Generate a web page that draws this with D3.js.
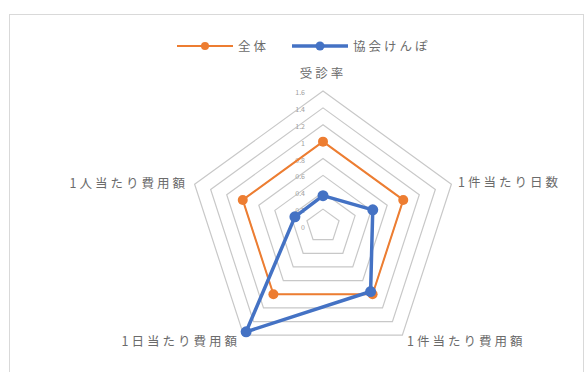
<!DOCTYPE html>
<html>
<head>
<meta charset="utf-8">
<script src="https://cdn.jsdelivr.net/npm/d3@7"></script>
<style>
  body { margin: 0; background: #fff; }
  .lbl { font-family: "Noto Sans CJK JP", sans-serif; fill: #6b6b6b; }
</style>
</head>
<body>
<div id="chart"></div>
<script>
// data
var axes = ['受診率', '1件当たり日数', '1件当たり費用額', '1日当たり費用額', '1人当たり費用額'];
var seriesNames = ['全体', '協会けんぽ'];
var zentai = [1.0, 1.0, 1.0, 1.0, 1.0];
var kyokai = [0.36, 0.62, 0.96, 1.55, 0.35];
var tickValues = [0, 0.2, 0.4, 0.6, 0.8, 1.0, 1.2, 1.4, 1.6];
var tickLabels = ['0', '0.2', '0.4', '0.6', '0.8', '1', '1.2', '1.4', '1.6'];
var colors = ['#ED7D31', '#4472C4'];

var W = 588, H = 372,
	cx = 323, cy = 226, R = 135;

var svg = d3.select('#chart').append('svg')
	.attr('width', W)
	.attr('height', H);

// outer frame
svg.append('rect')
	.attr('x', 9.5).attr('y', 14.5)
	.attr('width', 574).attr('height', 420)
	.attr('fill', 'none')
	.attr('stroke', '#d9d9d9');

var r = d3.scaleLinear().domain([0, 1.6]).range([0, R]);
var ang = function(i) { return i * 2 * Math.PI / axes.length; };
var pt = function(v, i) { return [cx + r(v) * Math.sin(ang(i)), cy - r(v) * Math.cos(ang(i))]; };

var line = d3.line().curve(d3.curveLinearClosed);

// rings
svg.selectAll('.ring')
	.data(tickValues.slice(1))
	.enter().append('path')
	.attr('class', 'ring')
	.attr('d', function(t) { return line(axes.map(function(a, i) { return pt(t, i); })); })
	.attr('fill', 'none')
	.attr('stroke', '#c8c8c8')
	.attr('stroke-width', 1.2);

// tick labels
svg.selectAll('.tick')
	.data(tickValues)
	.enter().append('text')
	.attr('class', 'lbl')
	.attr('x', cx - 18)
	.attr('y', function(t) { return cy - r(t) + 4; })
	.attr('text-anchor', 'end')
	.style('font-size', '7px')
	.style('fill', '#a0a0a0')
	.text(function(d, i) { return tickLabels[i]; });

// axis labels
var labelPos = [
	{ x: cx, y: 78, anchor: 'middle' },
	{ x: 458, y: 187, anchor: 'start' },
	{ x: 407, y: 346, anchor: 'start' },
	{ x: 240, y: 346, anchor: 'end' },
	{ x: 188, y: 188, anchor: 'end' }
];
svg.selectAll('.axisLabel')
	.data(axes)
	.enter().append('text')
	.attr('class', 'lbl')
	.attr('x', function(d, i) { return labelPos[i].x; })
	.attr('y', function(d, i) { return labelPos[i].y; })
	.attr('text-anchor', function(d, i) { return labelPos[i].anchor; })
	.style('font-size', '12.5px')
	.style('letter-spacing', '3px')
	.text(function(d) { return d; });

// series
var series = [zentai, kyokai];
var widths = [2, 3.5], radii = [5, 5.5];
series.forEach(function(vals, s) {
	var pts = vals.map(function(v, i) { return pt(v, i); });
	svg.append('path')
		.attr('d', line(pts))
		.attr('fill', 'none')
		.attr('stroke', colors[s])
		.attr('stroke-width', widths[s])
		.attr('stroke-linejoin', 'round');
	svg.selectAll('.dot' + s)
		.data(pts)
		.enter().append('circle')
		.attr('cx', function(d) { return d[0]; })
		.attr('cy', function(d) { return d[1]; })
		.attr('r', radii[s])
		.attr('fill', colors[s]);
});

// legend
var legX = [177, 292];
var legend = svg.selectAll('.legend')
	.data(seriesNames)
	.enter().append('g')
	.attr('class', 'legend')
	.attr('transform', function(d, i) { return 'translate(' + legX[i] + ',46)'; });
legend.append('line')
	.attr('x1', 0).attr('x2', 56)
	.attr('stroke', function(d, i) { return colors[i]; })
	.attr('stroke-width', function(d, i) { return widths[i]; });
legend.append('circle')
	.attr('cx', 28).attr('r', function(d, i) { return radii[i] - 1; })
	.attr('fill', function(d, i) { return colors[i]; });
legend.append('text')
	.attr('class', 'lbl')
	.attr('x', 61).attr('y', 4.5)
	.style('font-size', '12.5px')
	.style('letter-spacing', '3px')
	.text(function(d) { return d; });
</script>
</body>
</html>
